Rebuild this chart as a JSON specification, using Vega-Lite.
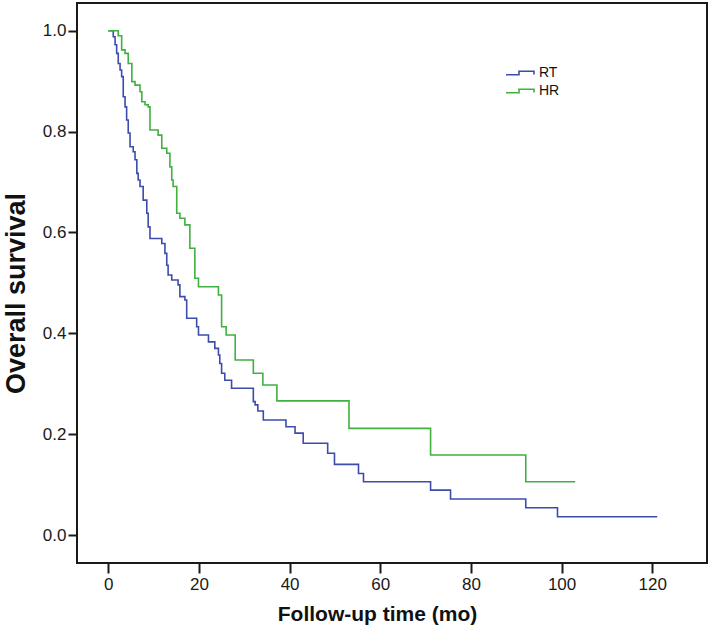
{
  "$schema": "https://vega.github.io/schema/vega-lite/v6.json",
  "width": 630,
  "height": 560,
  "autosize": {"type": "none"},
  "padding": {"left": 77, "top": 3, "right": 2, "bottom": 67},
  "background": "white",
  "config": {
    "view": {"stroke": "#1a1a1a", "strokeWidth": 2},
    "font": "Liberation Sans"
  },
  "data": {
    "values": [
      {"group": "RT", "time": 0, "surv": 1.0},
      {"group": "RT", "time": 0.75, "surv": 1.0},
      {"group": "RT", "time": 1.1, "surv": 0.988},
      {"group": "RT", "time": 1.5, "surv": 0.972},
      {"group": "RT", "time": 1.85, "surv": 0.955},
      {"group": "RT", "time": 2.2, "surv": 0.935},
      {"group": "RT", "time": 2.6, "surv": 0.922},
      {"group": "RT", "time": 2.95, "surv": 0.909},
      {"group": "RT", "time": 3.3, "surv": 0.869},
      {"group": "RT", "time": 3.7, "surv": 0.849},
      {"group": "RT", "time": 4.05, "surv": 0.823},
      {"group": "RT", "time": 4.4, "surv": 0.797},
      {"group": "RT", "time": 4.8, "surv": 0.77},
      {"group": "RT", "time": 5.5, "surv": 0.76},
      {"group": "RT", "time": 5.9, "surv": 0.744},
      {"group": "RT", "time": 6.3, "surv": 0.717},
      {"group": "RT", "time": 6.6, "surv": 0.704},
      {"group": "RT", "time": 7.0, "surv": 0.691},
      {"group": "RT", "time": 7.7, "surv": 0.664},
      {"group": "RT", "time": 8.5, "surv": 0.638},
      {"group": "RT", "time": 8.8, "surv": 0.611},
      {"group": "RT", "time": 9.2, "surv": 0.588},
      {"group": "RT", "time": 11.8, "surv": 0.578},
      {"group": "RT", "time": 12.5, "surv": 0.5585},
      {"group": "RT", "time": 12.9, "surv": 0.535},
      {"group": "RT", "time": 13.2, "surv": 0.5156},
      {"group": "RT", "time": 14.0, "surv": 0.5057},
      {"group": "RT", "time": 15.4, "surv": 0.496},
      {"group": "RT", "time": 15.8, "surv": 0.4726},
      {"group": "RT", "time": 16.9, "surv": 0.466},
      {"group": "RT", "time": 17.3, "surv": 0.4297},
      {"group": "RT", "time": 19.5, "surv": 0.413},
      {"group": "RT", "time": 19.9, "surv": 0.3966},
      {"group": "RT", "time": 22.1, "surv": 0.383},
      {"group": "RT", "time": 23.5, "surv": 0.37},
      {"group": "RT", "time": 24.3, "surv": 0.357},
      {"group": "RT", "time": 24.6, "surv": 0.34},
      {"group": "RT", "time": 25.0, "surv": 0.3206},
      {"group": "RT", "time": 25.7, "surv": 0.307},
      {"group": "RT", "time": 27.2, "surv": 0.291},
      {"group": "RT", "time": 32.0, "surv": 0.2644},
      {"group": "RT", "time": 32.4, "surv": 0.258},
      {"group": "RT", "time": 33.0, "surv": 0.246},
      {"group": "RT", "time": 34.2, "surv": 0.228},
      {"group": "RT", "time": 39.2, "surv": 0.2148},
      {"group": "RT", "time": 41.2, "surv": 0.202},
      {"group": "RT", "time": 43.0, "surv": 0.182},
      {"group": "RT", "time": 48.4, "surv": 0.162},
      {"group": "RT", "time": 49.9, "surv": 0.14},
      {"group": "RT", "time": 55.2, "surv": 0.122},
      {"group": "RT", "time": 56.3, "surv": 0.1057},
      {"group": "RT", "time": 71.1, "surv": 0.089},
      {"group": "RT", "time": 75.5, "surv": 0.0714},
      {"group": "RT", "time": 92.1, "surv": 0.0541},
      {"group": "RT", "time": 99.1, "surv": 0.0363},
      {"group": "RT", "time": 121.1, "surv": 0.0363},
      {"group": "HR", "time": 0, "surv": 1.0},
      {"group": "HR", "time": 2.2, "surv": 0.99},
      {"group": "HR", "time": 2.95, "surv": 0.962},
      {"group": "HR", "time": 3.7, "surv": 0.955},
      {"group": "HR", "time": 4.4, "surv": 0.935},
      {"group": "HR", "time": 5.2, "surv": 0.899},
      {"group": "HR", "time": 5.9, "surv": 0.892},
      {"group": "HR", "time": 7.0, "surv": 0.879},
      {"group": "HR", "time": 7.4, "surv": 0.859},
      {"group": "HR", "time": 8.1, "surv": 0.853},
      {"group": "HR", "time": 8.8, "surv": 0.849},
      {"group": "HR", "time": 9.2, "surv": 0.803},
      {"group": "HR", "time": 11.0, "surv": 0.793},
      {"group": "HR", "time": 11.8, "surv": 0.767},
      {"group": "HR", "time": 12.9, "surv": 0.757},
      {"group": "HR", "time": 13.6, "surv": 0.73},
      {"group": "HR", "time": 14.0, "surv": 0.704},
      {"group": "HR", "time": 14.3, "surv": 0.691},
      {"group": "HR", "time": 15.1, "surv": 0.638},
      {"group": "HR", "time": 15.8, "surv": 0.628},
      {"group": "HR", "time": 16.9, "surv": 0.615},
      {"group": "HR", "time": 18.0, "surv": 0.5685},
      {"group": "HR", "time": 19.1, "surv": 0.509},
      {"group": "HR", "time": 19.9, "surv": 0.4924},
      {"group": "HR", "time": 24.3, "surv": 0.476},
      {"group": "HR", "time": 25.0, "surv": 0.413},
      {"group": "HR", "time": 26.0, "surv": 0.3966},
      {"group": "HR", "time": 28.0, "surv": 0.347},
      {"group": "HR", "time": 32.0, "surv": 0.3206},
      {"group": "HR", "time": 34.1, "surv": 0.2974},
      {"group": "HR", "time": 37.2, "surv": 0.266},
      {"group": "HR", "time": 53.1, "surv": 0.2115},
      {"group": "HR", "time": 71.1, "surv": 0.1586},
      {"group": "HR", "time": 92.1, "surv": 0.1057},
      {"group": "HR", "time": 103.0, "surv": 0.1057}
    ]
  },
  "mark": {"type": "line", "interpolate": "step-after", "strokeWidth": 1.6},
  "encoding": {
    "x": {
      "field": "time",
      "type": "quantitative",
      "scale": {"domain": [-6.9, 132.08], "nice": false, "zero": false},
      "axis": {
        "values": [0, 20, 40, 60, 80, 100, 120],
        "grid": false,
        "domain": false,
        "tickSize": 10,
        "tickWidth": 2,
        "tickColor": "#1a1a1a",
        "labelFontSize": 17,
        "labelColor": "#1a1a1a",
        "labelPadding": 3,
        "title": "Follow-up time (mo)",
        "titleFontSize": 21,
        "titleFontWeight": "bold",
        "titleColor": "#111",
        "titleBaseline": "alphabetic",
        "titleX": 300,
        "titleY": 57
      }
    },
    "y": {
      "field": "surv",
      "type": "quantitative",
      "scale": {"domain": [-0.0555, 1.0549], "nice": false, "zero": false},
      "axis": {
        "values": [0, 0.2, 0.4, 0.6, 0.8, 1.0],
        "format": ".1f",
        "grid": false,
        "domain": false,
        "tickSize": 9,
        "tickWidth": 2,
        "tickColor": "#1a1a1a",
        "labelFontSize": 17,
        "labelColor": "#1a1a1a",
        "labelPadding": 2,
        "title": "Overall survival",
        "titleFontSize": 27,
        "titleFontWeight": "bold",
        "titleColor": "#111",
        "titleAngle": -90,
        "titleAlign": "center",
        "titleBaseline": "middle",
        "titleX": -61,
        "titleY": 290
      }
    },
    "color": {
      "field": "group",
      "type": "nominal",
      "sort": ["RT", "HR"],
      "scale": {"domain": ["RT", "HR"], "range": ["#3d4cab", "#40b040"]},
      "legend": {
        "title": null,
        "orient": "none",
        "legendX": 432,
        "legendY": 59,
        "padding": 0,
        "symbolType": "M-1.4,0.18L-0.1,0.18L-0.1,-0.18L1.4,-0.18L1.4,0.14",
        "symbolSize": 400,
        "symbolStrokeWidth": 1.6,
        "labelFontSize": 14,
        "labelColor": "#111",
        "labelOffset": 8,
        "rowPadding": 0
      }
    }
  }
}
